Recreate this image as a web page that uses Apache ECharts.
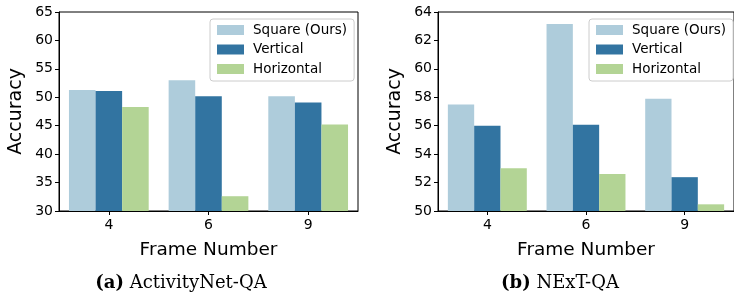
<!DOCTYPE html>
<html>
<head>
<meta charset="utf-8">
<script src="https://cdn.jsdelivr.net/npm/echarts@6/dist/echarts.min.js"></script>
<style>
  html, body { margin: 0; padding: 0; background: #fff; }
  #chart { width: 734px; height: 296px; }
</style>
</head>
<body>
<div id="chart"></div>
<script>
// 帧数
var frames = ['4', '6', '9'];
var seriesNames = ['Square (Ours)', 'Vertical', 'Horizontal'];
// ActivityNet-QA
var anetSquare = [51.3, 53.0, 50.2];
var anetVertical = [51.1, 50.2, 49.1];
var anetHorizontal = [48.3, 32.6, 45.2];
// NExT-QA
var nextSquare = [57.5, 63.15, 57.9];
var nextVertical = [56.0, 56.07, 52.38];
var nextHorizontal = [53.0, 52.6, 50.47];

var colors = ['#aeccdb', '#3274a1', '#b3d495'];
var font = 'DejaVu Sans';

function yAxisOf(gridIndex, min, max, interval) {
  return {
    type: 'value', gridIndex: gridIndex, min: min, max: max, interval: interval,
    name: 'Accuracy', nameLocation: 'middle', nameGap: 33,
    nameTextStyle: { color: '#000', fontSize: 19, fontFamily: font },
    axisLine: { show: true, lineStyle: { color: '#000', width: 1 } },
    axisTick: { show: true, length: 4, lineStyle: { color: '#000' } },
    axisLabel: { color: '#000', fontSize: 14, fontFamily: font, margin: 6 },
    splitLine: { show: false }
  };
}
function xAxisOf(gridIndex) {
  return {
    type: 'category', gridIndex: gridIndex, data: frames,
    name: 'Frame Number', nameLocation: 'middle', nameGap: 30,
    nameTextStyle: { color: '#000', fontSize: 18.5, fontFamily: font },
    axisLine: { show: true, lineStyle: { color: '#000', width: 1 } },
    axisTick: { show: true, alignWithLabel: true, length: 4, lineStyle: { color: '#000' } },
    axisLabel: { color: '#000', fontSize: 14, fontFamily: font, margin: 7 }
  };
}
function barsOf(idx, datas) {
  return datas.map(function (d, i) {
    return {
      name: seriesNames[i], type: 'bar', xAxisIndex: idx, yAxisIndex: idx,
      data: d, barGap: '0%', barCategoryGap: '20%',
      itemStyle: { color: colors[i] }
    };
  });
}
function legendOf(left) {
  return {
    data: seriesNames, left: left, top: 19, orient: 'vertical',
    itemWidth: 27, itemHeight: 10, itemGap: 5.5,
    backgroundColor: 'rgba(255,255,255,0.8)', borderColor: '#cccccc', borderWidth: 1, borderRadius: 3,
    padding: [4, 7, 5, 7],
    textStyle: { color: '#000', fontSize: 13.5, fontFamily: font, padding: [0, 0, 0, 4] },
    icon: 'rect'
  };
}

var chart = echarts.init(document.getElementById('chart'), null, { renderer: 'canvas' });
chart.setOption({
  animation: false,
  color: colors,
  grid: [
    { left: 59, top: 12, width: 299, height: 199, show: true, borderColor: '#000', borderWidth: 1 },
    { left: 438, top: 12, width: 298, height: 199, show: true, borderColor: '#000', borderWidth: 1 }
  ],
  legend: [legendOf(210), legendOf(589)],
  xAxis: [xAxisOf(0), xAxisOf(1)],
  yAxis: [yAxisOf(0, 30, 65, 5), yAxisOf(1, 50, 64, 2)],
  series: barsOf(0, [anetSquare, anetVertical, anetHorizontal])
    .concat(barsOf(1, [nextSquare, nextVertical, nextHorizontal])),
  graphic: [
    {
      type: 'text', x: 181, y: 283,
      style: {
        text: '{b|(a)} ActivityNet-QA',
        font: '18px "DejaVu Serif"', fill: '#000', align: 'center', verticalAlign: 'middle',
        rich: { b: { fontWeight: 'bold', fontFamily: 'DejaVu Serif', fontSize: 18 } }
      }
    },
    {
      type: 'text', x: 560, y: 283,
      style: {
        text: '{b|(b)} NExT-QA',
        font: '18px "DejaVu Serif"', fill: '#000', align: 'center', verticalAlign: 'middle',
        rich: { b: { fontWeight: 'bold', fontFamily: 'DejaVu Serif', fontSize: 18 } }
      }
    }
  ]
});
window.addEventListener('resize', function () { chart.resize(); });
</script>
</body>
</html>
